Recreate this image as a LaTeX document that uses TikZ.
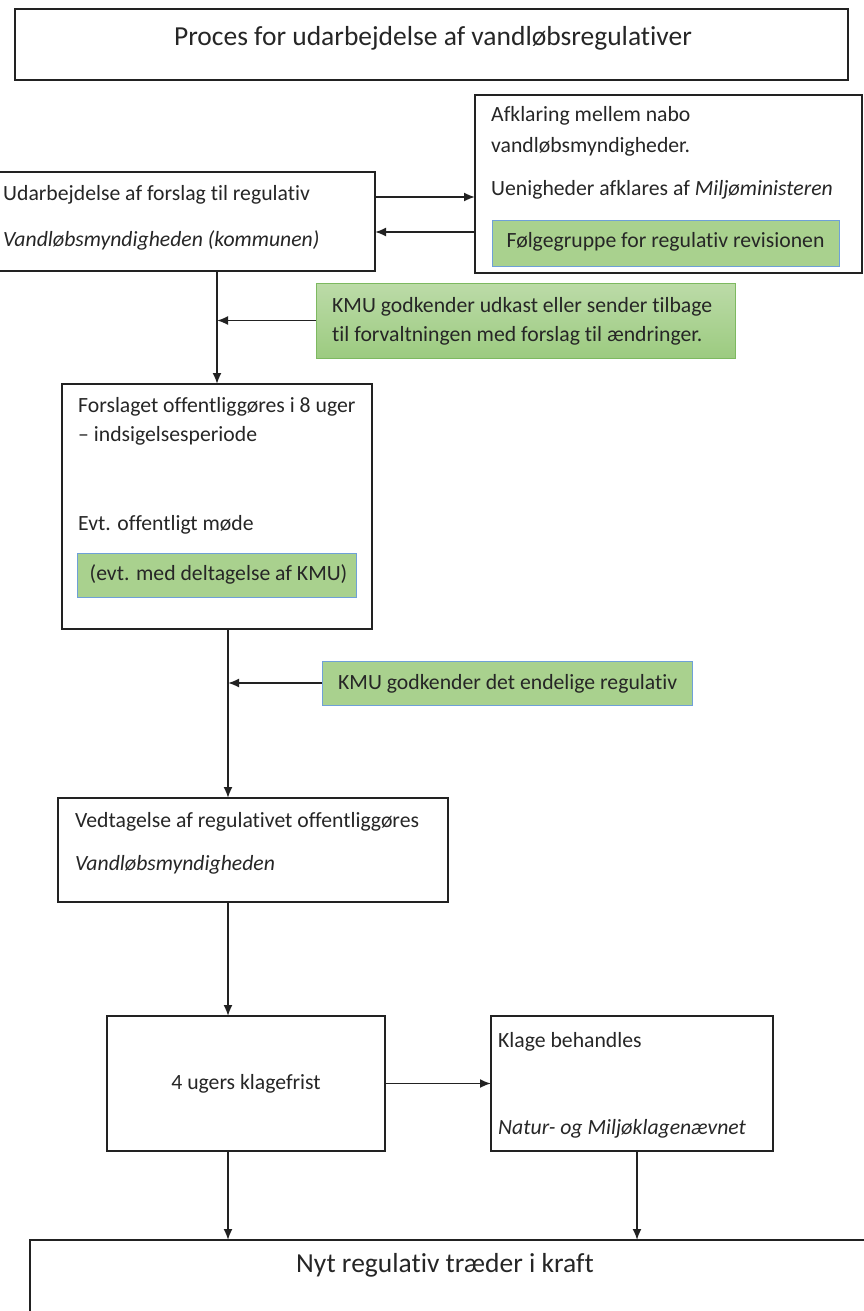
\documentclass[tikz,border=0pt]{standalone}
\usepackage{fontspec}
\setmainfont{Carlito}[Ligatures={NoCommon}]
\usetikzlibrary{arrows.meta}
\definecolor{gfill}{HTML}{A9D18E}
\definecolor{gborder}{HTML}{6FA0D8}
\definecolor{kborder}{HTML}{7DB960}
\definecolor{ktop}{HTML}{BCDBA8}
\definecolor{kbot}{HTML}{9CCB80}
\definecolor{lin}{HTML}{222222}
\newcommand\txtbody{\fontsize{21.7}{28}\selectfont}
\newcommand\txttitle{\fontsize{27.5}{33}\selectfont}
\begin{document}
\begin{tikzpicture}[x=1pt,y=-1pt,
  box/.style={draw=lin, line width=1.6pt, fill=white, inner sep=0pt, outer sep=0pt, anchor=north west},
  gbox/.style={draw=gborder, line width=1pt, fill=gfill, inner sep=0pt, outer sep=0pt, anchor=north west},
  kbox/.style={draw=kborder, line width=1pt, top color=ktop, bottom color=kbot, inner sep=0pt, outer sep=0pt, anchor=north west},
  txt/.style={inner sep=0pt, anchor=base west, font=\txtbody, text=black!85},
  ctxt/.style={inner sep=0pt, anchor=base, font=\txtbody, text=black!85},
  ttxt/.style={inner sep=0pt, anchor=base, font=\txttitle, text=black!85},
  arr/.style={draw=lin, line width=1.8pt, -{Latex[length=11pt,width=9pt]}}]
\useasboundingbox (0,0) rectangle (863,1311);
\fill[white] (0,0) rectangle (863,1311);

% boxes
\node[box, minimum width=833pt, minimum height=71pt] (title) at (15,9) {};
\node[box, minimum width=380pt, minimum height=99pt] (udarb) at (-5,172) {};
\node[box, minimum width=387pt, minimum height=178pt] (afkl) at (475,95) {};
\node[gbox, minimum width=347pt, minimum height=46pt] (folg) at (492,220) {};
\node[kbox, minimum width=419pt, minimum height=75pt] (kmu1) at (316,283) {};
\node[box, minimum width=310pt, minimum height=245pt] (forsl) at (62,384) {};
\node[gbox, minimum width=279pt, minimum height=44pt] (evt) at (77,553) {};
\node[gbox, minimum width=370pt, minimum height=44pt] (kmu2) at (322,661) {};
\node[box, minimum width=390pt, minimum height=104pt] (vedt) at (58,798) {};
\node[box, minimum width=278pt, minimum height=135pt] (uger) at (107,1016) {};
\node[box, minimum width=282pt, minimum height=135pt] (klage) at (491,1016) {};
\node[box, minimum width=850pt, minimum height=100pt] (nyt) at (30,1240) {};

% texts
\node[ttxt] (ttitle) at (433,46) {Proces for udarbejdelse af vandløbsregulativer};
\node[txt] (tu1) at (3,200) {Udarbejdelse af forslag til regulativ};
\node[txt] (tu2) at (3,246) {\itshape Vandløbsmyndigheden (kommunen)};
\node[txt] (ta1) at (491,122) {Afklaring mellem nabo};
\node[txt] (ta2) at (491,152) {vandløbsmyndigheder.};
\node[txt] (ta3) at (491,195) {Uenigheder afklares af \textit{Miljøministeren}};
\node[ctxt] (tf) at (folg.center |- 0,247) {Følgegruppe for regulativ revisionen};
\node[txt] (tk1) at (332,312) {KMU godkender udkast eller sender tilbage};
\node[txt] (tk2) at (332,341) {til forvaltningen med forslag til ændringer.};
\node[txt] (tfo1) at (78,412) {Forslaget offentliggøres i 8 uger};
\node[txt] (tfo2) at (78,441) {– indsigelsesperiode};
\node[txt] (tfo3) at (78,530) {Evt. offentligt møde};
\node[ctxt] (tevt) at ([xshift=2pt]evt.center |- 0,580) {(evt. med deltagelse af KMU)};
\node[txt] (tk3) at (338,689) {KMU godkender det endelige regulativ};
\node[txt] (tv1) at (75,827) {Vedtagelse af regulativet offentliggøres};
\node[txt] (tv2) at (75,870) {\itshape Vandløbsmyndigheden};
\node[ctxt] (tug) at (uger.center |- 0,1089) {4 ugers klagefrist};
\node[txt] (tkl1) at (498,1047) {Klage behandles};
\node[txt] (tkl2) at (498,1134) {\itshape Natur- og Miljøklagenævnet};
\node[ttxt] (tnyt) at (445,1272) {Nyt regulativ træder i kraft};

% connectors
\coordinate (r1) at (0,197);
\coordinate (r2) at (0,232);
\coordinate (c1) at (217,0);
\coordinate (c2) at (228,0);
\coordinate (c3) at (637,0);
\draw[arr] (r1 -| udarb.east) -- (r1 -| afkl.west);
\draw[arr] (r2 -| afkl.west) -- (r2 -| udarb.east);
\draw[arr] (c1 |- udarb.south) -- (c1 |- forsl.north);
\draw[arr] (kmu1.west) -- (kmu1.west -| c1);
\draw[arr] (c2 |- forsl.south) -- (c2 |- vedt.north);
\draw[arr] (kmu2.west) -- (kmu2.west -| c2);
\draw[arr] (c2 |- vedt.south) -- (c2 |- uger.north);
\draw[arr] (uger.east) -- (klage.west);
\draw[arr] (c2 |- uger.south) -- (c2 |- nyt.north);
\draw[arr] (c3 |- klage.south) -- (c3 |- nyt.north);
\end{tikzpicture}
\end{document}
